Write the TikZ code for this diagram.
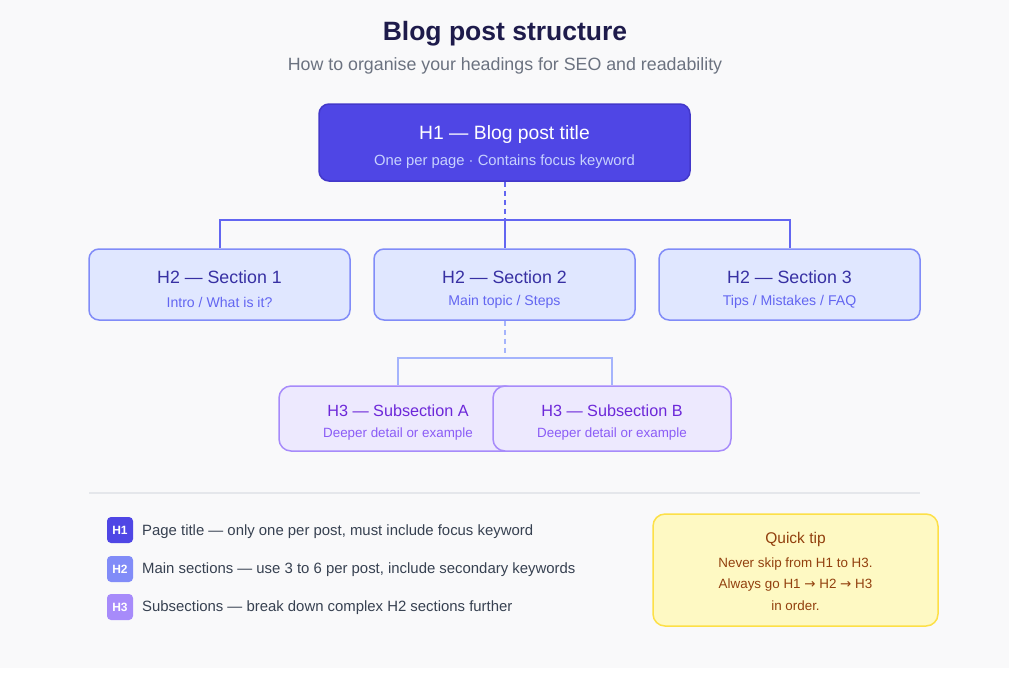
\documentclass[tikz,border=0pt]{standalone}
\usepackage{fontspec}
\setmainfont{Liberation Sans}
\newfontfamily\arrowfont{DejaVu Sans}
\usetikzlibrary{calc}

\definecolor{bgcol}{HTML}{F9F9FA}
\definecolor{titlecol}{HTML}{1E1B4B}
\definecolor{subcol}{HTML}{6B7280}
\definecolor{hone}{HTML}{4F46E5}
\definecolor{honeline}{HTML}{4338CA}
\definecolor{honesub}{HTML}{C7D2FE}
\definecolor{htwofill}{HTML}{E0E7FF}
\definecolor{htwoline}{HTML}{818CF8}
\definecolor{htwotext}{HTML}{3730A3}
\definecolor{htwosub}{HTML}{6366F1}
\definecolor{hthreefill}{HTML}{EDE9FE}
\definecolor{hthreeline}{HTML}{A78BFA}
\definecolor{hthreetext}{HTML}{6D28D9}
\definecolor{hthreesub}{HTML}{8B5CF6}
\definecolor{linkone}{HTML}{6366F1}
\definecolor{linktwo}{HTML}{A5B4FC}
\definecolor{legtext}{HTML}{374151}
\definecolor{sepcol}{HTML}{E5E7EB}
\definecolor{tipfill}{HTML}{FEF9C3}
\definecolor{tipline}{HTML}{FDE047}
\definecolor{tiptext}{HTML}{92400E}

\newcommand{\fsz}[1]{\fontsize{#1}{#1}\selectfont}
\newcommand{\toarrow}{{\arrowfont\fontsize{13.4}{13.4}\selectfont →}}

\begin{document}
\begin{tikzpicture}[x=1pt, y=-1pt,
	h1box/.style={
		draw=honeline,
		fill=hone,
		line width=1.5pt,
		rounded corners=10pt,
		minimum width=371pt,
		minimum height=77pt,
		inner sep=0pt,
	},
	h2box/.style={
		draw=htwoline,
		fill=htwofill,
		line width=1.5pt,
		rounded corners=10pt,
		minimum width=261pt,
		minimum height=71pt,
		inner sep=0pt,
	},
	h3box/.style={
		draw=hthreeline,
		fill=hthreefill,
		line width=1.5pt,
		rounded corners=12pt,
		minimum width=238pt,
		minimum height=65pt,
		inner sep=0pt,
	},
	badge/.style={
		rounded corners=4pt,
		minimum size=26pt,
		inner sep=0pt,
		text=white,
		font=\fsz{12}\bfseries,
	},
	legend/.style={
		anchor=west,
		inner sep=0pt,
		text=legtext,
		font=\fsz{14.9},
	},
	every node/.style={inner sep=0pt},
	link/.style={
		draw,
		line width=2pt,
	}]

	% background
	\useasboundingbox (0,0) rectangle (1024,683);
	\fill[bgcol] (0,0) rectangle (1009,668);

	% heading
	\node[font=\fsz{26.5}\bfseries, text=titlecol] (title) at (505,34) {Blog post structure};
	\node[font=\fsz{17.8}, text=subcol] (subtitle) at (505,66) {How to organise your headings for SEO and readability};

	% H1
	\node[h1box] (h1) at (504.5,142.5) {};
	\node[font=\fsz{19.3}, text=white] (h1t) at (504.5,134.5) {H1 — Blog post title};
	\node[font=\fsz{14.8}, text=honesub] (h1s) at (504.5,162) {One per page · Contains focus keyword};

	% H2
	\node[h2box] (s1) at (219.5,284.5) {};
	\node[h2box] (s2) at (504.5,284.5) {};
	\node[h2box] (s3) at (789.5,284.5) {};
	\node[font=\fsz{17.8}, text=htwotext] (s1t) at (219.5,277) {H2 — Section 1};
	\node[font=\fsz{14.1}, text=htwosub] (s1s) at (219.5,302) {Intro / What is it?};
	\node[font=\fsz{17.8}, text=htwotext] (s2t) at (504.5,277) {H2 — Section 2};
	\node[font=\fsz{14.1}, text=htwosub] (s2s) at (504.5,302) {Main topic / Steps};
	\node[font=\fsz{17.8}, text=htwotext] (s3t) at (789.5,277) {H2 — Section 3};
	\node[font=\fsz{14.1}, text=htwosub] (s3s) at (789.5,302) {Tips / Mistakes / FAQ};

	% links H1 -> H2
	\coordinate (bar1) at (504.5,220);
	\draw[link, linkone, dash pattern=on 5pt off 4pt] (h1.south) -- (bar1);
	\draw[link, linkone] (s1.north) |- (bar1) -| (s3.north);
	\draw[link, linkone] (bar1) -- (s2.north);

	% H3
	\node[h3box] (a) at (398,418.5) {};
	\node[h3box] (b) at (612,418.5) {};
	\node[font=\fsz{16.2}, text=hthreetext] (at) at (398,411) {H3 — Subsection A};
	\node[font=\fsz{13.4}, text=hthreesub] (as) at (398,434) {Deeper detail or example};
	\node[font=\fsz{16.2}, text=hthreetext] (bt) at (612,411) {H3 — Subsection B};
	\node[font=\fsz{13.4}, text=hthreesub] (bs) at (612,434) {Deeper detail or example};

	% links H2 -> H3
	\coordinate (bar2) at (504.5,358);
	\draw[link, linktwo, dash pattern=on 5pt off 4pt] (s2.south) -- (bar2);
	\draw[link, linktwo] (a.north) |- (bar2) -| (b.north);

	% separator
	\coordinate (sepl) at (89,493);
	\coordinate (sepr) at (920,493);
	\draw[sepcol, line width=1.2pt] (sepl) -- (sepr);

	% legend
	\node[badge, fill=hone] (k1) at (120,530) {H1};
	\node[badge, fill=htwoline] (k2) at (120,569) {H2};
	\node[badge, fill=hthreeline] (k3) at (120,607) {H3};
	\node[legend] (l1) at (142,532) {Page title — only one per post, must include focus keyword};
	\node[legend] (l2) at (142,570) {Main sections — use 3 to 6 per post, include secondary keywords};
	\node[legend] (l3) at (142,608) {Subsections — break down complex H2 sections further};

	% tip
	\node[draw=tipline, fill=tipfill, line width=1.5pt, rounded corners=12pt,
		minimum width=285pt, minimum height=112pt] (tip) at (795.5,570) {};
	\node[font=\fsz{15.5}, text=tiptext] (tipt) at (795.5,539) {Quick tip};
	\node[font=\fsz{13.4}, text=tiptext] (tip1) at (795.5,564) {Never skip from H1 to H3.};
	\node[font=\fsz{13.4}, text=tiptext] (tip2) at (795.5,585) {Always go H1 \toarrow{} H2 \toarrow{} H3};
	\node[font=\fsz{13.4}, text=tiptext] (tip3) at (795.5,606) {in order.};

\end{tikzpicture}
\end{document}
